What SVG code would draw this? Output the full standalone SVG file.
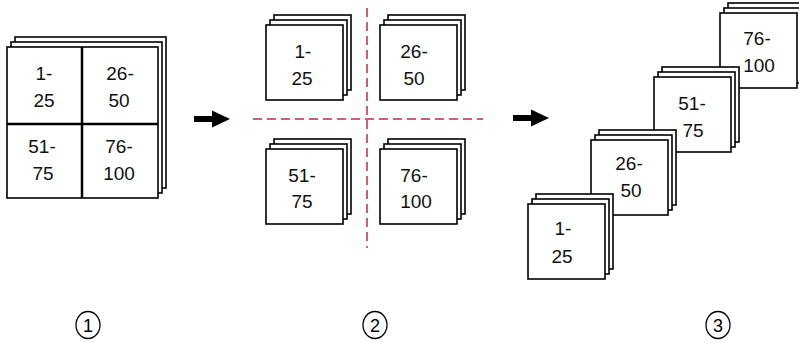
<svg xmlns="http://www.w3.org/2000/svg" xmlns:xlink="http://www.w3.org/1999/xlink" width="799" height="343" viewBox="0 0 799 343">
<style>
.sh{fill:#fff;stroke:#000;stroke-width:1.6}
.t{font-family:"Liberation Sans",Arial,sans-serif;font-size:19px;fill:#111;text-anchor:middle}
.c{fill:none;stroke:#000;stroke-width:1.3}
.n{font-family:"Liberation Sans",Arial,sans-serif;font-size:18px;fill:#000;text-anchor:middle}
.cut{stroke:#c8283c;stroke-width:1.5;stroke-dasharray:9 5;fill:none}
.div{stroke:#000;stroke-width:2.5}
</style>
<defs>
<g id="stack">
<rect class="sh" x="8" y="-10" width="77" height="75"/>
<rect class="sh" x="4" y="-5" width="77" height="75"/>
<rect class="sh" x="0" y="0" width="77" height="75"/>
</g>
<g id="arrow">
<rect x="0" y="-3" width="20" height="6" fill="#000"/>
<polygon points="18,-8.5 36,0 18,8.5" fill="#000"/>
</g>
</defs>

<g id="sheet-grid">
<rect class="sh" x="15" y="37" width="151" height="151"/>
<rect class="sh" x="11" y="42" width="151" height="151"/>
<rect class="sh" x="7" y="47" width="151" height="151"/>
<line class="div" x1="82" y1="47" x2="82" y2="198"/>
<line class="div" x1="7" y1="124" x2="158" y2="124"/>
<text class="t" x="44" y="80">1-</text>
<text class="t" x="44" y="107">25</text>
<text class="t" x="120" y="80">26-</text>
<text class="t" x="119" y="107">50</text>
<text class="t" x="42" y="153">51-</text>
<text class="t" x="43" y="180">75</text>
<text class="t" x="119" y="153">76-</text>
<text class="t" x="119" y="180">100</text>
</g>

<g id="cut-lines">
<line class="cut" x1="367" y1="8" x2="367" y2="248"/>
<line class="cut" x1="253" y1="119" x2="483" y2="119"/>
</g>

<g id="d2-1-25">
<use xlink:href="#stack" x="266" y="25"/>
<text class="t" x="303" y="58">1-</text>
<text class="t" x="302" y="85">25</text>
</g>
<g id="d2-26-50">
<use xlink:href="#stack" x="380" y="25"/>
<text class="t" x="414" y="58">26-</text>
<text class="t" x="414" y="85">50</text>
</g>
<g id="d2-51-75">
<use xlink:href="#stack" x="266" y="149"/>
<text class="t" x="302" y="182">51-</text>
<text class="t" x="302" y="208">75</text>
</g>
<g id="d2-76-100">
<use xlink:href="#stack" x="380" y="149"/>
<text class="t" x="414" y="182">76-</text>
<text class="t" x="416" y="208">100</text>
</g>

<g id="d3-76-100">
<use xlink:href="#stack" x="720" y="13"/>
<text class="t" x="757" y="45">76-</text>
<text class="t" x="759" y="72">100</text>
</g>
<g id="d3-51-75">
<use xlink:href="#stack" x="654" y="77"/>
<text class="t" x="692" y="110">51-</text>
<text class="t" x="693" y="137">75</text>
</g>
<g id="d3-26-50">
<use xlink:href="#stack" x="591" y="140"/>
<text class="t" x="629" y="170">26-</text>
<text class="t" x="631" y="197">50</text>
</g>
<g id="d3-1-25">
<use xlink:href="#stack" x="528" y="204"/>
<text class="t" x="563" y="235">1-</text>
<text class="t" x="562" y="263">25</text>
</g>

<g id="connectors">
<use xlink:href="#arrow" x="194" y="119"/>
<use xlink:href="#arrow" x="513" y="118"/>
</g>

<g id="step-1">
<ellipse class="c" cx="88" cy="325" rx="12" ry="13.5"/>
<text class="n" x="88" y="331.5">1</text>
</g>
<g id="step-2">
<ellipse class="c" cx="375" cy="325" rx="12" ry="13.5"/>
<text class="n" x="375" y="331.5">2</text>
</g>
<g id="step-3">
<ellipse class="c" cx="718" cy="325" rx="12" ry="13.5"/>
<text class="n" x="718" y="331.5">3</text>
</g>
</svg>
